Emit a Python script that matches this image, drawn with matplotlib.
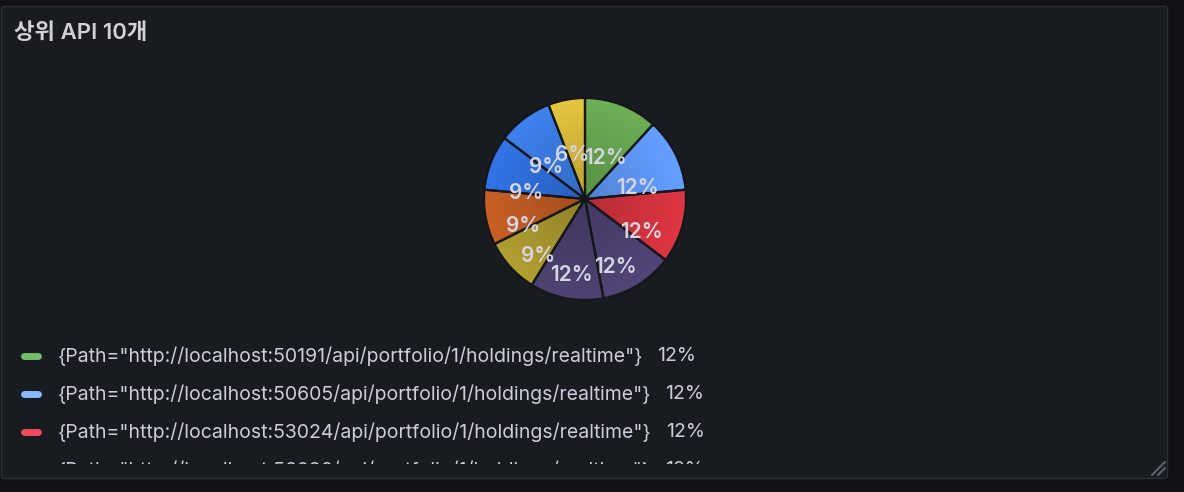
import matplotlib
matplotlib.use('Agg')
import matplotlib.pyplot as plt
import numpy as np
from matplotlib.patches import FancyBboxPatch
from matplotlib.transforms import offset_copy

plt.rcParams['font.family'] = ['Inter', 'Noto Sans CJK KR', 'DejaVu Sans']

# 데이터 (호출 수, 시계 방향 순서)
title = '상위 API 10개'
counts = [4, 4, 4, 4, 4, 3, 3, 3, 3, 2]
slice_colors = ['#66a651', '#5f97f6', '#d2333e', '#4d4271', '#4a3f6c',
                '#a8962e', '#bd5a23', '#2f6edb', '#3a7be1', '#d9ba3c']
legend_labels = [
    '{Path="http://localhost:50191/api/portfolio/1/holdings/realtime"}',
    '{Path="http://localhost:50605/api/portfolio/1/holdings/realtime"}',
    '{Path="http://localhost:53024/api/portfolio/1/holdings/realtime"}',
    '{Path="http://localhost:56286/api/portfolio/1/holdings/realtime"}',
]
legend_colors = ['#73BF69', '#8AB8FF', '#F2495C', '#806EB7']

W, H = 1184, 492
fig = plt.figure(figsize=(W / 100, H / 100), dpi=100)
fig.patch.set_facecolor('#111217')

# 배경 패널 (픽셀 좌표)
bg = fig.add_axes([0, 0, 1, 1])
bg.set_xlim(0, W)
bg.set_ylim(H, 0)
bg.axis('off')
panel = FancyBboxPatch((1.5, 6.5), 1166, 472, boxstyle='round,pad=0,rounding_size=3',
                       fc='#181b1f', ec='#2b2e34', lw=1)
bg.add_patch(panel)
bg.text(14, 33, title, fontsize=16, color='#d0d1d9', fontweight='semibold',
        va='center', ha='left')
# 크기조절 핸들
bg.plot([1152, 1165], [475, 462], color='#5b5e66', lw=1.6, solid_capstyle='round')
bg.plot([1158, 1165], [475, 468], color='#5b5e66', lw=1.6, solid_capstyle='round')

# 파이
cx, cy, R = 585, 199, 101
box = 120
ax = fig.add_axes([(cx - box) / W, 1 - (cy + box) / H, 2 * box / W, 2 * box / H])
wedges, texts, autotexts = ax.pie(
    counts, colors=slice_colors, startangle=90, counterclock=False, radius=R,
    autopct=lambda p: '%.0f%%' % p, pctdistance=0.6,
    wedgeprops=dict(edgecolor='#15171b', linewidth=1.6),
    textprops=dict(color='#d6d6e2', fontsize=15, fontweight='semibold'))
ax.set_xlim(-box, box)
ax.set_ylim(-box, box)
ax.set_aspect('equal')
ax.axis('off')

# 방사형 그라데이션 (바깥이 밝고 안쪽이 어두움)
gx, gy = np.meshgrid(np.linspace(-R, R, 300), np.linspace(-R, R, 300))
rr = np.clip(np.hypot(gx, gy) / R, 0, 1)
for w, c in zip(wedges, slice_colors):
    rgb = np.array(matplotlib.colors.to_rgb(c))
    shade = (0.86 + 0.2 * rr)[..., None]
    img = np.clip(rgb[None, None, :] * shade, 0, 1)
    im = ax.imshow(img, extent=(-R, R, -R, R), origin='lower', zorder=w.get_zorder() - 0.1,
                   interpolation='bilinear')
    im.set_clip_path(w)
    w.set_facecolor('none')

for t in autotexts:
    t.set_transform(offset_copy(t.get_transform(), fig=fig, x=-2, y=-16, units='dots'))
    t.set_zorder(5)

# 범례 (패널 아래쪽에서 잘림)
lax = fig.add_axes([0, 1 - 464 / H, 1, (464 - 338) / H])
lax.set_xlim(0, W)
lax.set_ylim(464, 338)
lax.axis('off')
total = sum(counts)
for i, (lab, col) in enumerate(zip(legend_labels, legend_colors)):
    y = 356 + 38 * i
    lax.plot([24, 38], [y, y], color=col, lw=5, solid_capstyle='round', clip_on=True)
    t = lax.text(58, y, lab, fontsize=14, color='#ccccdc', va='center', ha='left',
                 clip_on=True)
    lax.annotate('%.0f%%' % (100 * counts[i] / total), xy=(1, 0.5), xycoords=t,
                 xytext=(10, 0), textcoords='offset points', va='center', ha='left',
                 fontsize=14, color='#ccccdc', annotation_clip=False, clip_on=True)

fig.savefig('out.png', dpi=100, facecolor=fig.get_facecolor())
